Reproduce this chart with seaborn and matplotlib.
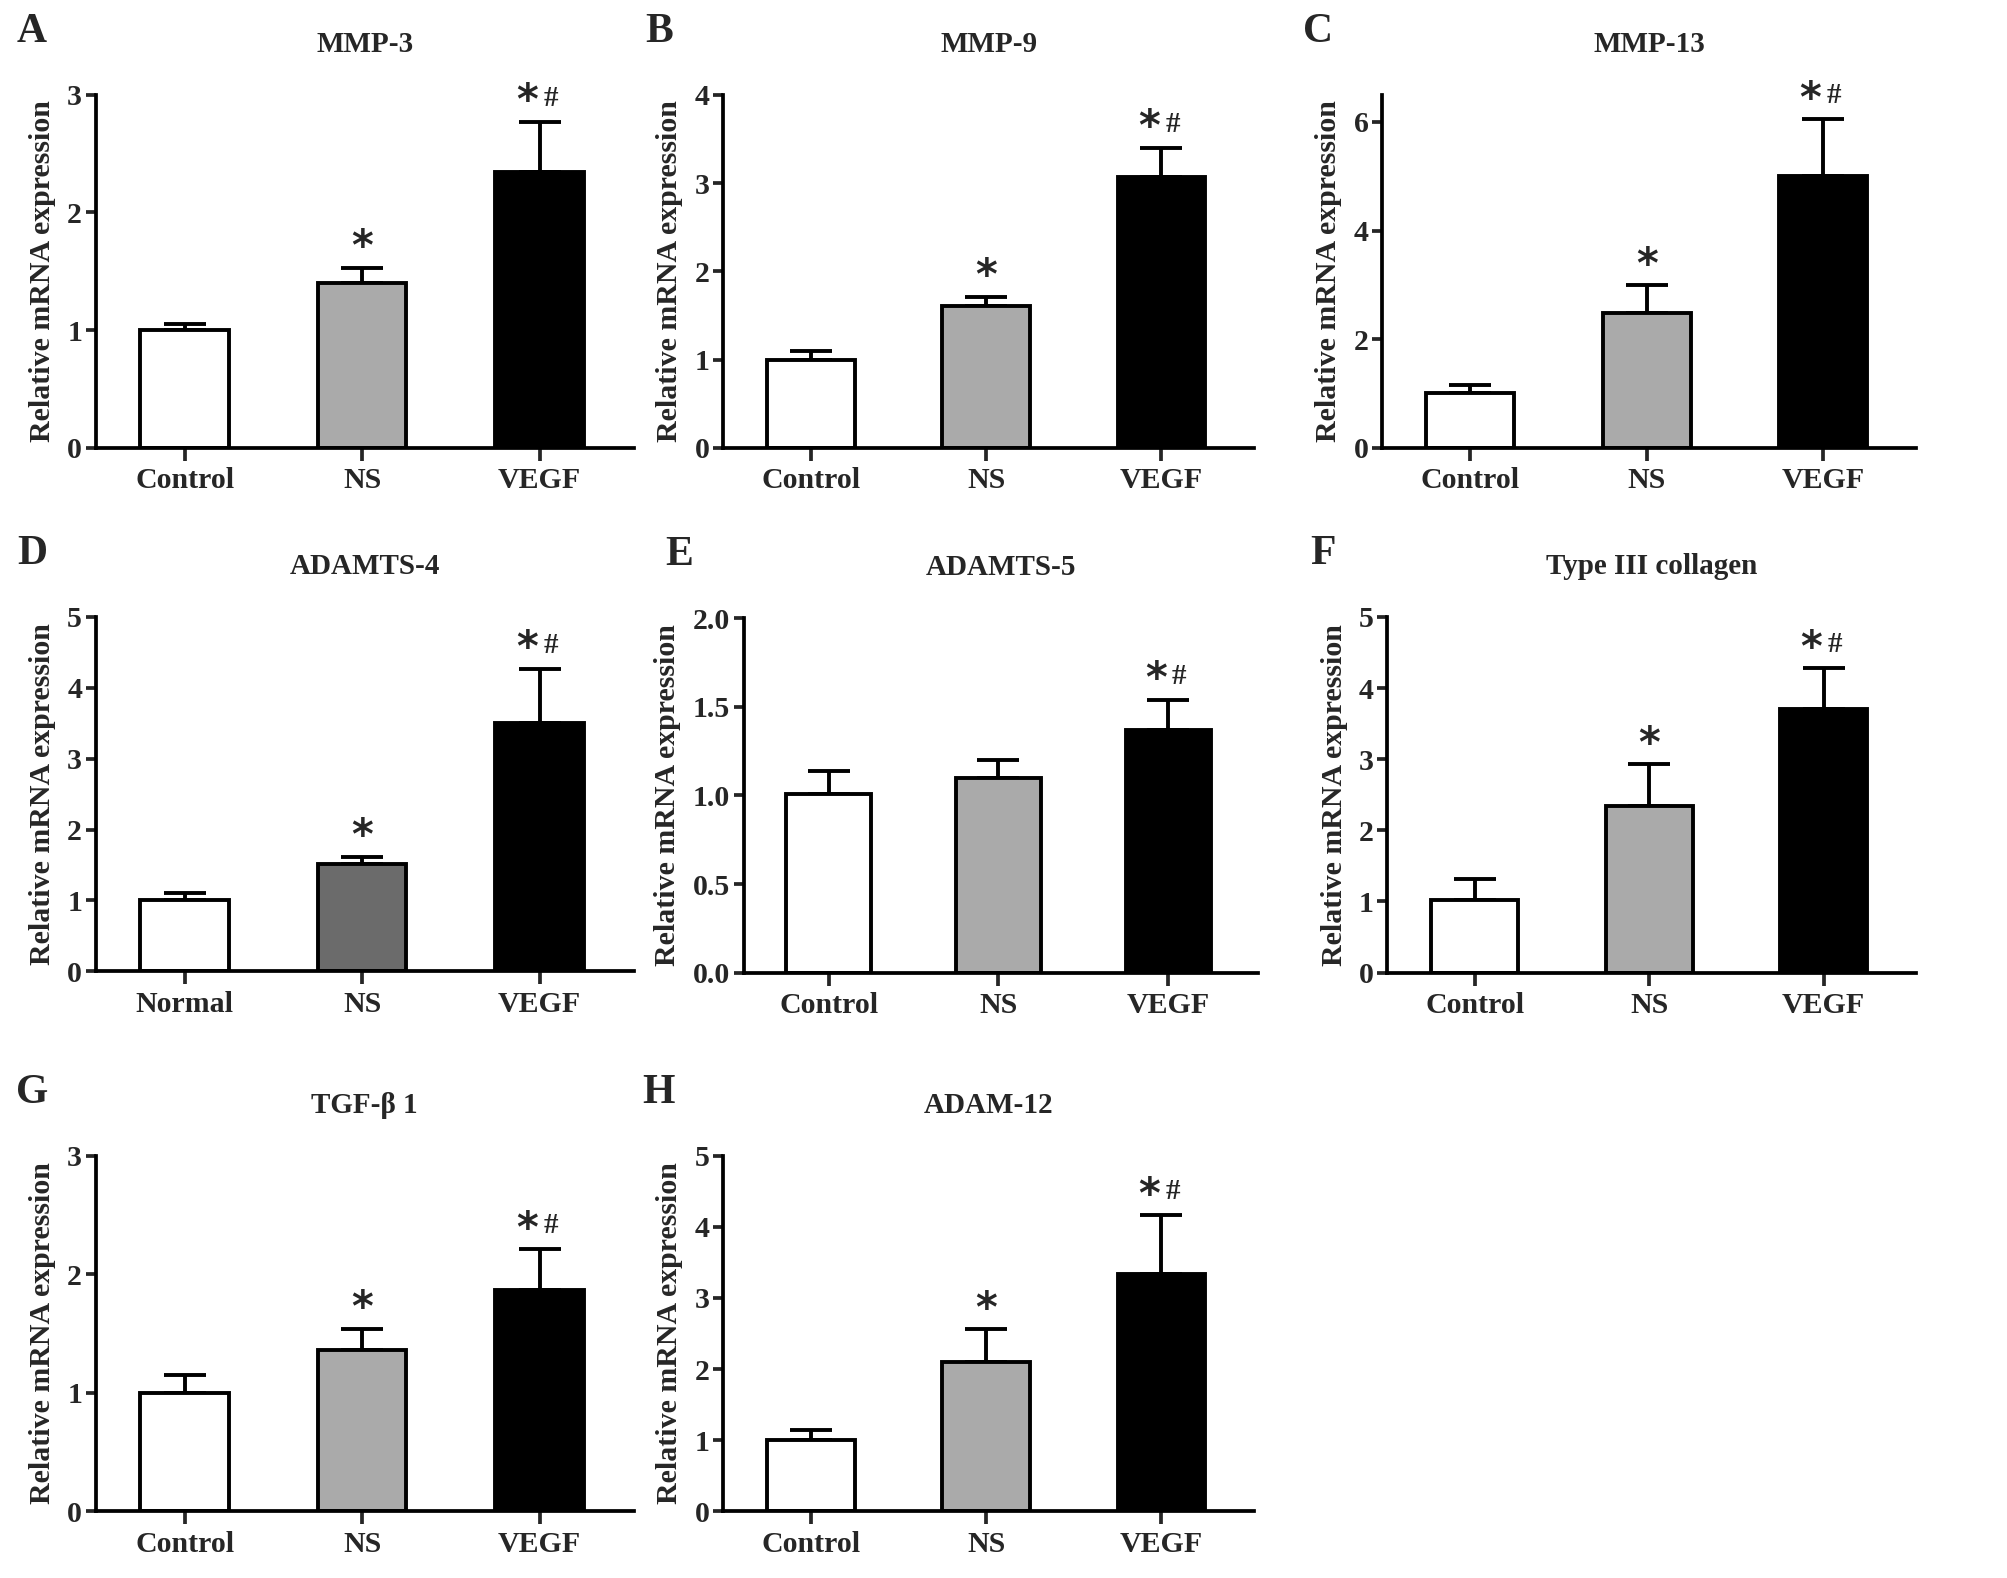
import numpy as np
import pandas as pd
import seaborn as sns
import matplotlib.pyplot as plt

# Datos (media y error superior)
groups = ["Control", "NS", "VEGF"]
groups_d = ["Normal", "NS", "VEGF"]

mmp3_mean = [1.00, 1.40, 2.34]
mmp3_err = [0.05, 0.13, 0.43]
mmp9_mean = [1.00, 1.61, 3.07]
mmp9_err = [0.10, 0.10, 0.33]
mmp13_mean = [1.01, 2.49, 5.01]
mmp13_err = [0.14, 0.50, 1.04]
adamts4_mean = [1.01, 1.51, 3.50]
adamts4_err = [0.10, 0.11, 0.77]
adamts5_mean = [1.01, 1.10, 1.37]
adamts5_err = [0.13, 0.10, 0.17]
col3_mean = [1.02, 2.34, 3.70]
col3_err = [0.29, 0.59, 0.58]
tgfb1_mean = [1.00, 1.36, 1.87]
tgfb1_err = [0.15, 0.18, 0.34]
adam12_mean = [1.01, 2.10, 3.34]
adam12_err = [0.14, 0.46, 0.82]

titles = ["MMP-3", "MMP-9", "MMP-13", "ADAMTS-4", "ADAMTS-5",
          "Type III collagen", "TGF-β 1", "ADAM-12"]
letters = ["A", "B", "C", "D", "E", "F", "G", "H"]
means = [mmp3_mean, mmp9_mean, mmp13_mean, adamts4_mean, adamts5_mean,
         col3_mean, tgfb1_mean, adam12_mean]
errs = [mmp3_err, mmp9_err, mmp13_err, adamts4_err, adamts5_err,
        col3_err, tgfb1_err, adam12_err]
labels = [groups, groups, groups, groups_d, groups, groups, groups, groups]
marks = [["", "*", "*#"]] * 4 + [["", "", "*#"]] + [["", "*", "*#"]] * 3

# Ejes y: límite superior y marcas
ylims = [3, 4, 6.5, 5, 2.0, 5, 3, 5]
yticks = [[0, 1, 2, 3], [0, 1, 2, 3, 4], [0, 2, 4, 6], [0, 1, 2, 3, 4, 5],
          [0.0, 0.5, 1.0, 1.5, 2.0], [0, 1, 2, 3, 4, 5], [0, 1, 2, 3],
          [0, 1, 2, 3, 4, 5]]

sns.set_theme(style="ticks")
plt.rcParams['font.family'] = ['Liberation Serif', 'DejaVu Serif']
plt.rcParams['font.weight'] = 'bold'
plt.rcParams['axes.labelweight'] = 'bold'
plt.rcParams['axes.titleweight'] = 'bold'

fig = plt.figure(figsize=(20.07, 15.78), dpi=100)


def box(l, r, top, bot):
    return [l / 1568, 1 - bot / 1233, (r - l) / 1568, (bot - top) / 1233]


boxes = [box(75, 495, 74, 350), box(565, 980, 74, 350), box(1080, 1497, 74, 350),
         box(75, 495, 482, 759), box(581, 983, 483, 760), box(1084, 1497, 482, 760),
         box(75, 495, 903, 1181), box(565, 980, 903, 1181)]

for k in range(8):
    ax = fig.add_axes(boxes[k])
    df = pd.DataFrame({'group': labels[k], 'value': means[k]})
    mid = '#6b6b6b' if k == 3 else '#aaaaaa'
    sns.barplot(data=df, x='group', y='value', hue='group',
                palette=['white', mid, 'black'], width=0.5,
                edgecolor='black', linewidth=2.8, legend=False,
                errorbar=None, ax=ax)
    ax.errorbar(x=np.arange(3), y=means[k],
                yerr=[np.zeros(3), errs[k]], fmt='none', ecolor='black',
                elinewidth=2.8, capsize=15, capthick=2.8, zorder=0.5)

    ax.set_xlim(-0.5, 2.53)
    ax.set_ylim(0, ylims[k])
    ax.set_yticks(yticks[k])
    if k == 4:
        ax.set_yticklabels([f"{t:.1f}" for t in yticks[k]])
    ax.set_xlabel("")
    ax.set_ylabel("Relative mRNA expression", fontsize=21.5, labelpad=8)
    ax.set_title(titles[k], fontsize=21, pad=31)
    sns.despine(ax=ax)
    for s in ['left', 'bottom']:
        ax.spines[s].set_linewidth(2.7)
        ax.spines[s].set_color('black')
    ax.tick_params(axis='y', direction='out', length=7, width=2.7,
                   labelsize=21.5, pad=3)
    ax.tick_params(axis='x', direction='out', length=9, width=2.7,
                   labelsize=21.5, pad=5)

    for i in range(3):
        top = means[k][i] + errs[k][i]
        if marks[k][i] == "*":
            ax.annotate("*", (i, top), xytext=(0, 14), textcoords='offset points',
                        ha='center', va='center', fontsize=30,
                        family=['DejaVu Sans'])
        elif marks[k][i] == "*#":
            ax.annotate("*", (i, top), xytext=(-9, 14), textcoords='offset points',
                        ha='center', va='center', fontsize=30,
                        family=['DejaVu Sans'])
            ax.annotate("#", (i, top), xytext=(8, 17), textcoords='offset points',
                        ha='center', va='center', fontsize=21)

    b = boxes[k]
    fig.text(b[0] - 0.032, b[1] + b[3] + 0.04, letters[k], fontsize=30,
             fontweight='bold', ha='center', va='center')

fig.savefig("out.png", dpi=100)
